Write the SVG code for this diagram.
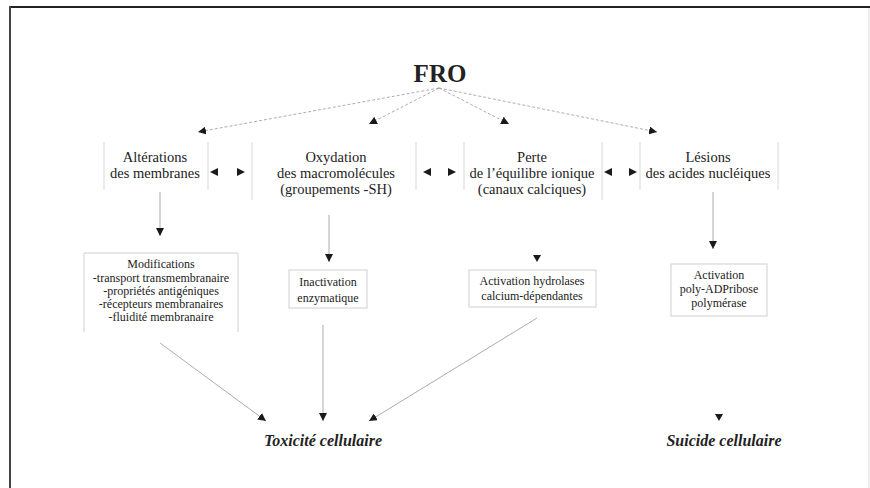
<svg xmlns="http://www.w3.org/2000/svg" width="870" height="488" viewBox="0 0 870 488">
<style>
text{font-family:"Liberation Serif","Times New Roman",serif;fill:#222;text-anchor:middle}
.lbl{font-size:14.5px}
.box{font-size:12px}
.res{font-size:16px;font-weight:bold;font-style:italic}
.sep{stroke:#d8d8d8;stroke-width:1;fill:none}
.bx{fill:#fff;stroke:#d0d0d0;stroke-width:1}
.dash{stroke:#999;stroke-width:0.8;stroke-dasharray:3 2;fill:none}
.ln{stroke:#888;stroke-width:0.7;fill:none}
.tri{fill:#1a1a1a}
</style>
<defs>
<marker id="ah" viewBox="0 0 10 10" refX="10" refY="5" markerWidth="8" markerHeight="8" markerUnits="userSpaceOnUse" orient="auto">
<path d="M0,0 L10,5 L0,10 z" fill="#1a1a1a"/>
</marker>
</defs>
<rect width="870" height="488" fill="#fff"/>
<line x1="9" y1="7" x2="870" y2="7" stroke="#222" stroke-width="2"/>
<line x1="10" y1="6" x2="10" y2="488" stroke="#444" stroke-width="2"/>
<line x1="869" y1="8" x2="869" y2="488" stroke="#ddd" stroke-width="1"/>

<g id="fro"><text x="440" y="82" style="font-size:25px;font-weight:bold">FRO</text></g>

<g id="n-alterations">
<line class="sep" x1="104" y1="142" x2="104" y2="190"/>
<line class="sep" x1="208" y1="142" x2="208" y2="190"/>
<text class="lbl" x="155" y="162">Altérations</text>
<text class="lbl" x="155" y="178">des membranes</text>
</g>
<g id="n-oxydation">
<line class="sep" x1="252" y1="142" x2="252" y2="200"/>
<line class="sep" x1="416" y1="142" x2="416" y2="190"/>
<text class="lbl" x="336" y="162">Oxydation</text>
<text class="lbl" x="336" y="178">des macromolécules</text>
<text class="lbl" x="336" y="194">(groupements -SH)</text>
</g>
<g id="n-perte">
<line class="sep" x1="464" y1="142" x2="464" y2="190"/>
<line class="sep" x1="602" y1="142" x2="602" y2="200"/>
<text class="lbl" x="532" y="162">Perte</text>
<text class="lbl" x="532" y="178">de l’équilibre ionique</text>
<text class="lbl" x="532" y="194">(canaux calciques)</text>
</g>
<g id="n-lesions">
<line class="sep" x1="640" y1="142" x2="640" y2="190"/>
<line class="sep" x1="778" y1="142" x2="778" y2="190"/>
<text class="lbl" x="708" y="162">Lésions</text>
<text class="lbl" x="708" y="178">des acides nucléiques</text>
</g>

<g id="n-modifications">
<path class="bx" d="M84,332 V253 H238 V332"/>
<text class="box" x="161" y="268">Modifications</text>
<text class="box" x="161" y="282">-transport transmembranaire</text>
<text class="box" x="161" y="295">-propriétés antigéniques</text>
<text class="box" x="161" y="308">-récepteurs membranaires</text>
<text class="box" x="161" y="321">-fluidité membranaire</text>
</g>
<g id="n-inactivation">
<rect class="bx" x="289" y="270" width="78" height="38"/>
<text class="box" x="328" y="286">Inactivation</text>
<text class="box" x="328" y="302">enzymatique</text>
</g>
<g id="n-hydrolases">
<rect class="bx" x="469" y="270" width="127" height="37"/>
<text class="box" x="532" y="285">Activation hydrolases</text>
<text class="box" x="532" y="300">calcium-dépendantes</text>
</g>
<g id="n-polyadp">
<rect class="bx" x="671" y="264" width="96" height="52"/>
<text class="box" x="719" y="279">Activation</text>
<text class="box" x="719" y="293">poly-ADPribose</text>
<text class="box" x="719" y="307">polymérase</text>
</g>

<g id="n-toxicite"><text class="res" x="323" y="446">Toxicité cellulaire</text></g>
<g id="n-suicide"><text class="res" x="724" y="446">Suicide cellulaire</text></g>

<g id="connectors">
<path class="dash" d="M439,88 L198,132" marker-end="url(#ah)"/>
<path class="dash" d="M439,88 L369,124" marker-end="url(#ah)"/>
<path class="dash" d="M439,88 L509,124" marker-end="url(#ah)"/>
<path class="dash" d="M439,88 L657,132" marker-end="url(#ah)"/>

<path class="tri" d="M210,172 L218,168 L218,176 z"/>
<path class="tri" d="M245,172 L237,168 L237,176 z"/>
<path class="tri" d="M423,172 L431,168 L431,176 z"/>
<path class="tri" d="M456,172 L448,168 L448,176 z"/>
<path class="tri" d="M604,172 L612,168 L612,176 z"/>
<path class="tri" d="M637,172 L629,168 L629,176 z"/>

<path class="ln" d="M160,192 V236" marker-end="url(#ah)"/>
<path class="ln" d="M329,215 V262" marker-end="url(#ah)"/>
<path class="tri" d="M533,255 L541,255 L537,262 z"/>
<path class="ln" d="M713,192 V249" marker-end="url(#ah)"/>

<path class="ln" d="M160,343 L266,421" marker-end="url(#ah)"/>
<path class="ln" d="M323,325 V421" marker-end="url(#ah)"/>
<path class="ln" d="M537,318 L369,421" marker-end="url(#ah)"/>
<path class="tri" d="M715,414 L723,414 L719,421 z"/>
</g>
</svg>
